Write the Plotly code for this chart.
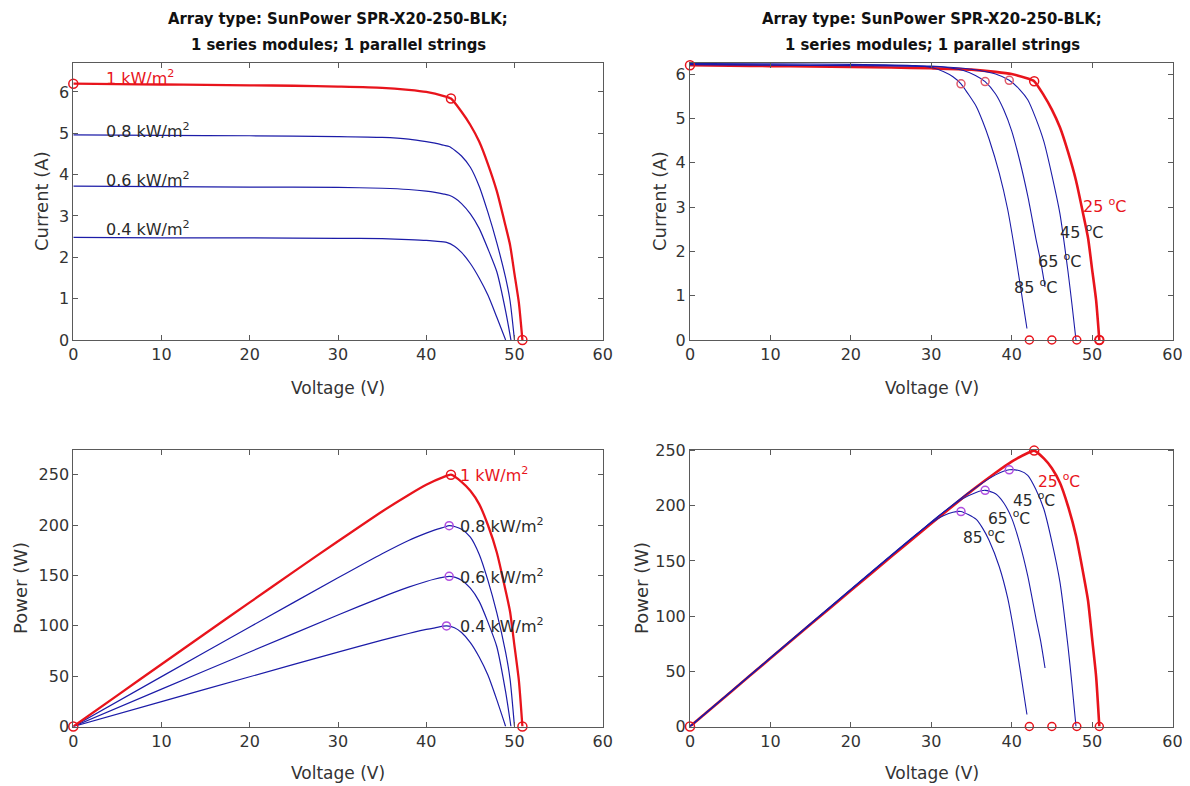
import plotly.graph_objects as go

# the page body has an 8 px margin, so the figure is sized to fit the window
OFF = 8
FW, FH = 1182, 778

# ---------------- data ----------------
# 1 kW/m^2 (= 25 degC) curve
v_1000 = [0, 5, 10, 15, 20, 25, 30, 35, 38, 40, 42, 42.8, 44, 45, 46, 47, 48, 49, 49.5, 50, 50.5, 50.9]
i_1000 = [6.2, 6.19, 6.18, 6.17, 6.16, 6.15, 6.13, 6.1, 6.05, 6.0, 5.9, 5.84, 5.52, 5.2, 4.8, 4.25, 3.6, 2.75, 2.3, 1.6, 0.9, 0]
p_1000 = [0, 30.9, 61.8, 92.6, 123.2, 153.8, 183.9, 213.5, 229.9, 240, 247.8, 250, 242.9, 234, 220.8, 199.8, 172.8, 134.8, 113.9, 80, 45.5, 0]

v_800 = [0, 10, 20, 30, 35, 38, 40, 41, 42, 42.6, 43.3, 44, 45, 46, 47, 48, 49, 49.5, 50.0]
i_800 = [4.96, 4.95, 4.94, 4.92, 4.9, 4.86, 4.8, 4.76, 4.71, 4.68, 4.58, 4.45, 4.18, 3.72, 3.08, 2.35, 1.5, 0.95, 0]
p_800 = [0, 49.5, 98.8, 147.6, 171.5, 184.7, 192, 195.2, 197.8, 199.4, 198.3, 195.8, 188.1, 171.1, 144.8, 112.8, 73.5, 47.0, 0]

v_600 = [0, 10, 20, 30, 35, 38, 40, 41, 42, 42.6, 43.3, 44, 45, 46, 47, 48, 49, 49.6]
i_600 = [3.72, 3.71, 3.7, 3.69, 3.67, 3.64, 3.6, 3.57, 3.53, 3.5, 3.42, 3.3, 3.05, 2.7, 2.2, 1.65, 0.7, 0]
p_600 = [0, 37.1, 74, 110.7, 128.5, 138.3, 144, 146.4, 148.3, 149.1, 148.1, 145.2, 137.3, 124.2, 103.4, 79.2, 34.3, 0]

v_400 = [0, 10, 20, 30, 35, 38, 40, 41, 42.3, 43.2, 44, 45, 46, 47, 48, 49.0]
i_400 = [2.48, 2.47, 2.47, 2.46, 2.45, 2.43, 2.41, 2.39, 2.36, 2.27, 2.12, 1.85, 1.5, 1.08, 0.55, 0]
p_400 = [0, 24.7, 49.4, 73.8, 85.8, 92.3, 96.4, 98.0, 99.8, 98.1, 93.3, 83.3, 69, 50.8, 26.4, 0]

v_45 = [0, 10, 20, 30, 34, 36, 38, 39.7, 41, 42, 43, 44, 45, 46, 47, 47.5, 48.0]
i_45 = [6.21, 6.2, 6.19, 6.17, 6.13, 6.08, 6.0, 5.86, 5.65, 5.42, 5.0, 4.48, 3.72, 2.85, 1.55, 0.8, 0]
p_45 = [0, 62, 123.8, 185.1, 208.4, 218.9, 228, 232.6, 231.7, 227.6, 215, 197.1, 167.4, 131.1, 72.9, 38, 0]

v_65 = [0, 10, 20, 30, 32, 34, 35.5, 36.7, 38, 39, 40, 41, 42, 43, 43.6, 44.15]
i_65 = [6.22, 6.21, 6.2, 6.18, 6.15, 6.08, 5.97, 5.83, 5.55, 5.2, 4.72, 4.05, 3.25, 2.3, 1.78, 1.2]
p_65 = [0, 62.1, 124, 185.4, 196.8, 206.7, 211.9, 214, 210.9, 202.8, 188.8, 166, 136.5, 98.9, 77.6, 53]

v_85 = [0, 10, 20, 28, 30, 31.5, 32.7, 33.7, 34.6, 35.6, 36.4, 37.2, 38.45, 39.5, 40.3, 41.1, 41.9]
i_85 = [6.24, 6.23, 6.22, 6.19, 6.15, 6.06, 5.94, 5.78, 5.55, 5.27, 4.93, 4.53, 3.77, 2.95, 2.12, 1.2, 0.26]
p_85 = [0, 62.3, 124.4, 173.3, 184.5, 190.9, 194.2, 194.8, 192.0, 187.6, 179.5, 168.5, 145, 116.5, 85.4, 49.3, 10.9]

# special points
isc_ref = 6.2
vmp_ref, imp_ref, pmp_ref = 42.8, 5.84, 250
voc_ref = 50.9
vmp_irr = [42.6, 42.6, 42.3]
pmp_irr = [199.4, 149.1, 99.8]
vmp_temp = [39.7, 36.7, 33.7]
imp_temp = [5.86, 5.83, 5.78]
pmp_temp = [232.6, 214.0, 194.8]
voc_temp = [42.2, 45.0, 48.1, 50.9]

irr_labels = ["1 kW/m<sup>2</sup>", "0.8 kW/m<sup>2</sup>", "0.6 kW/m<sup>2</sup>", "0.4 kW/m<sup>2</sup>"]
irr_label_i = [6.34, 5.07, 3.89, 2.69]
temp_labels = ["25 <sup>o</sup>C", "45 <sup>o</sup>C", "65 <sup>o</sup>C", "85 <sup>o</sup>C"]
temp_label_vi = [48.6, 45.7, 43.0, 40.1]
temp_label_i = [3.04, 2.45, 1.79, 1.2]
temp_label_vp = [43.0, 39.9, 36.8, 33.7]
temp_label_p = [223, 206, 189, 172]

x_ticks = [0, 10, 20, 30, 40, 50, 60]

# ---------------- styling ----------------
RED = "#e8141c"
BLUE = "#1c1ca8"
PINK = "#e05a6a"
VIOLET = "#b04ee0"
FONT = "DejaVu Sans"
TXT = "#2a2a2a"

fig = go.Figure()


def line(x, y, xa, ya, color, width):
    fig.add_trace(go.Scatter(x=x, y=y, xaxis=xa, yaxis=ya, mode="lines",
                             line=dict(color=color, width=width, shape="spline", smoothing=0.6),
                             cliponaxis=False, showlegend=False, hoverinfo="skip"))


def marks(x, y, xa, ya, color, size=9):
    fig.add_trace(go.Scatter(x=x, y=y, xaxis=xa, yaxis=ya, mode="markers",
                             marker=dict(symbol="circle-open", size=size, color=color,
                                         line=dict(color=color, width=1.5)),
                             cliponaxis=False, showlegend=False, hoverinfo="skip"))


# top-left: I-V vs irradiance
for v, i in [(v_800, i_800), (v_600, i_600), (v_400, i_400)]:
    line(v, i, "x", "y", BLUE, 1.2)
line(v_1000, i_1000, "x", "y", RED, 2.3)
marks([0, vmp_ref, voc_ref], [isc_ref, imp_ref, 0], "x", "y", RED)

# top-right: I-V vs temperature
line(v_1000, i_1000, "x2", "y2", RED, 2.6)
for v, i in [(v_45, i_45), (v_65, i_65), (v_85, i_85)]:
    line(v, i, "x2", "y2", BLUE, 1.1)
marks(vmp_temp, imp_temp, "x2", "y2", PINK, 8)
marks(voc_temp, [0, 0, 0, 0], "x2", "y2", RED, 8)
marks([0, vmp_ref, voc_ref], [isc_ref, imp_ref, 0], "x2", "y2", RED)

# bottom-left: P-V vs irradiance
for v, p in [(v_800, p_800), (v_600, p_600), (v_400, p_400)]:
    line(v, p, "x3", "y3", BLUE, 1.2)
line(v_1000, p_1000, "x3", "y3", RED, 2.3)
marks(vmp_irr, pmp_irr, "x3", "y3", VIOLET, 8)
marks([0, vmp_ref, voc_ref], [0, pmp_ref, 0], "x3", "y3", RED)

# bottom-right: P-V vs temperature
line(v_1000, p_1000, "x4", "y4", RED, 2.6)
for v, p in [(v_45, p_45), (v_65, p_65), (v_85, p_85)]:
    line(v, p, "x4", "y4", BLUE, 1.1)
marks(vmp_temp, pmp_temp, "x4", "y4", VIOLET, 8)
marks(voc_temp, [0, 0, 0, 0], "x4", "y4", RED, 8)
marks([0, vmp_ref], [0, pmp_ref], "x4", "y4", RED)

# ---------------- axes ----------------
def px_x(px):
    return (px - OFF) / FW


def px_y(py):
    return 1 - (py - OFF) / FH


LEFT = [px_x(73.3), px_x(602.7)]
RIGHT = [px_x(690), px_x(1172.5)]
TOP = [px_y(340), px_y(63)]
BOT = [px_y(726.5), px_y(449.5)]

common = dict(showgrid=False, zeroline=False, showline=True, mirror="ticks",
              linecolor="#5a5a5a", linewidth=1, ticks="inside", ticklen=5,
              tickcolor="#5a5a5a", automargin=False,
              tickfont=dict(family=FONT, size=16, color="#333333"))

xa = dict(range=[0, 60], tickvals=x_ticks, **common)
fig.update_layout(
    xaxis=dict(domain=LEFT, anchor="y", **xa),
    yaxis=dict(domain=TOP, anchor="x", range=[0, 6.7], tickvals=[0, 1, 2, 3, 4, 5, 6], **common),
    xaxis2=dict(domain=RIGHT, anchor="y2", **xa),
    yaxis2=dict(domain=TOP, anchor="x2", range=[0, 6.25], tickvals=[0, 1, 2, 3, 4, 5, 6], **common),
    xaxis3=dict(domain=LEFT, anchor="y3", **xa),
    yaxis3=dict(domain=BOT, anchor="x3", range=[0, 275], tickvals=[0, 50, 100, 150, 200, 250], **common),
    xaxis4=dict(domain=RIGHT, anchor="y4", **xa),
    yaxis4=dict(domain=BOT, anchor="x4", range=[0, 251], tickvals=[0, 50, 100, 150, 200, 250], **common),
)

ann = []


def txt(text, x, y, xref, yref, color=TXT, size=16, xanchor="left", yanchor="middle", angle=0,
        bold=False, family=FONT):
    ann.append(dict(text=("<b>%s</b>" % text) if bold else text, x=x, y=y, xref=xref, yref=yref,
                    showarrow=False, xanchor=xanchor, yanchor=yanchor, textangle=angle,
                    font=dict(family=family, size=size, color=color)))


TFONT = "DejaVu Sans Condensed, DejaVu Sans"
# titles
for cx in [338, 932]:
    txt("Array type: SunPower SPR-X20-250-BLK;", px_x(cx), px_y(19), "paper", "paper",
        color="#111111", size=16.5, xanchor="center", bold=True, family=TFONT)
    txt("1 series modules; 1 parallel strings", px_x(cx), px_y(45), "paper", "paper",
        color="#111111", size=16.5, xanchor="center", bold=True, family=TFONT)

# axis titles
for cx in [338, 932]:
    txt("Voltage (V)", px_x(cx), px_y(388), "paper", "paper", color="#333333", size=17, xanchor="center")
    txt("Voltage (V)", px_x(cx), px_y(773), "paper", "paper", color="#333333", size=17, xanchor="center")
txt("Current (A)", px_x(42), px_y(201), "paper", "paper", color="#333333", size=18, xanchor="center", angle=-90)
txt("Current (A)", px_x(660), px_y(201), "paper", "paper", color="#333333", size=18, xanchor="center", angle=-90)
txt("Power (W)", px_x(20), px_y(588), "paper", "paper", color="#333333", size=18, xanchor="center", angle=-90)
txt("Power (W)", px_x(641), px_y(588), "paper", "paper", color="#333333", size=18, xanchor="center", angle=-90)

# curve labels
for k, (lab, yy) in enumerate(zip(irr_labels, irr_label_i)):
    txt(lab, 3.5, yy, "x", "y", color=RED if k == 0 else TXT)
for k, (lab, yy) in enumerate(zip(irr_labels, [pmp_ref] + pmp_irr)):
    txt(lab, 43.6, yy, "x3", "y3", color=RED if k == 0 else TXT)
for k, (lab, xx, yy) in enumerate(zip(temp_labels, temp_label_vi, temp_label_i)):
    txt(lab, xx, yy, "x2", "y2", color=RED if k == 0 else TXT)
for k, (lab, xx, yy) in enumerate(zip(temp_labels, temp_label_vp, temp_label_p)):
    txt(lab, xx, yy, "x4", "y4", color=RED if k == 0 else TXT, size=15.5)

fig.update_layout(annotations=ann, width=FW, height=FH,
                  margin=dict(l=0, r=0, t=0, b=0, autoexpand=False),
                  plot_bgcolor="white", paper_bgcolor="white",
                  font=dict(family=FONT))

fig.write_html("out.html")
